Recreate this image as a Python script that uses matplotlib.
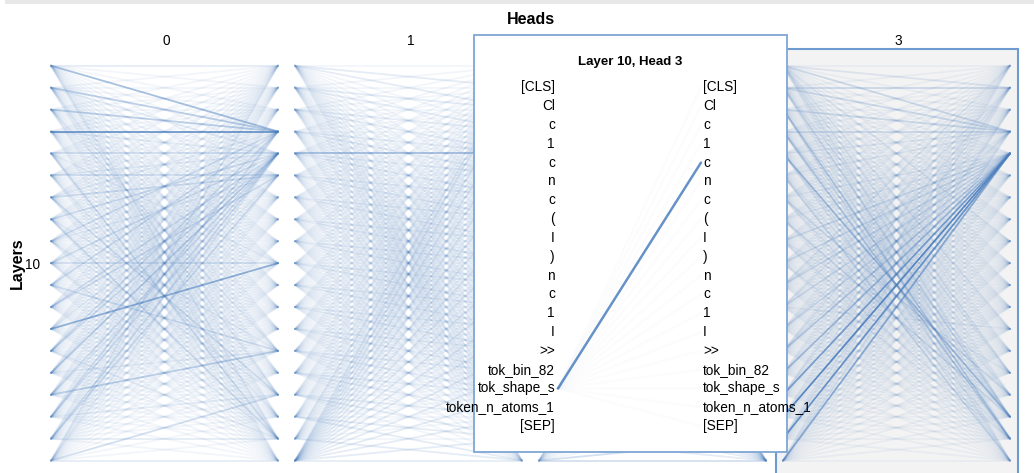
import matplotlib
matplotlib.use("Agg")
import matplotlib.pyplot as plt
from matplotlib.collections import LineCollection
from matplotlib.patches import Rectangle
from matplotlib.colors import to_rgb

plt.rcParams["font.family"] = ["Liberation Sans", "DejaVu Sans"]

tokens = ["[CLS]", "Cl", "c", "1", "c", "n", "c", "(", "I", ")", "n", "c", "1",
          "I", ">>", "tok_bin_82", "tok_shape_s", "token_n_atoms_1", "[SEP]"]
heads = ["0", "1", "2", "3"]
layer_label = "10"
selected_head = 3
selected_token = 16   # tok_shape_s, hovered in the detail box

attn_head0 = [
    "2115111111111111121",
    "1114211111111112111",
    "1114111111111211111",
    "1118211111111111111",
    "1111311112111111131",
    "1111231111111111211",
    "1112131111111113111",
    "1111311111111211131",
    "1113121111111112111",
    "1111311113111111121",
    "1113111111111311111",
    "1111331111111111111",
    "1111211116111111111",
    "1113311111111111121",
    "1112411111111211111",
    "1111321111111411111",
    "1113311111111112111",
    "1111331111111111121",
    "2111211111111113112",
]
attn_head1 = [
    "1221111111111111111",
    "1122111111111111111",
    "1112211111111111111",
    "1111221111111111111",
    "1111522111111111111",
    "1111112211111111111",
    "1111111221111111111",
    "1111111122111111111",
    "1111111112211111111",
    "1111111111221111111",
    "1111111111122111111",
    "1111111111112211111",
    "1111111111111221111",
    "1111111111111122111",
    "1111111111111112211",
    "1111111111111111221",
    "1111111111111111122",
    "2111111111111111112",
    "2222222222222222222",
]
attn_head2 = [
    "3111111111111111112",
    "3111111111111111112",
    "1311111111111111112",
    "1131111111111111112",
    "1113111111111111112",
    "1111311111111111112",
    "1111131111111111112",
    "1111113111111111112",
    "1111111311111111112",
    "1111111131111111112",
    "1111111113111111112",
    "1111111111311111112",
    "1111111111131111112",
    "1111111111113111112",
    "1111111111111311112",
    "1111111111111131112",
    "1111111111111113112",
    "1111111111111111312",
    "2111111111111111133",
]
attn_head3 = [
    "1213111121112121211",
    "1313111111111121311",
    "1113111111111111242",
    "1113111111111112241",
    "1112111111111111522",
    "1112111111111111213",
    "1111211111111113121",
    "1111211111111111311",
    "1111311111111121121",
    "1111311111111111121",
    "2112311111111111111",
    "1211311111112111111",
    "1112311111111111111",
    "1212411111111111111",
    "1111511111111111111",
    "1211711111111111111",
    "1111911111111111111",
    "1121811111111111111",
    "1112611111111111111",
]
attn = [attn_head0, attn_head1, attn_head2, attn_head3]
for m in attn:
    assert len(m) == len(tokens) and all(len(r) == len(tokens) for r in m)

# opacity for each attention level
level_alpha = [0.0, 0.07, 0.14, 0.24, 0.36, 0.48, 0.6, 0.7, 0.8, 0.9]

LINE = to_rgb("#4a7ebe")
W, H = 1034, 473


def draw_lines(ax, levels, x0, x1, ytop, step, lw, z, rows=None, power=1.0):
    segs, cols = [], []
    for i, row in enumerate(levels):
        if rows is not None and i not in rows:
            continue
        for j, ch in enumerate(row):
            a = level_alpha[int(ch)] ** power
            if a <= 0:
                continue
            segs.append([(x0, ytop + i * step), (x1, ytop + j * step)])
            cols.append((*LINE, a))
    ax.add_collection(LineCollection(segs, colors=cols, linewidths=lw,
                                     capstyle="round", zorder=z))


fig = plt.figure(figsize=(W / 100, H / 100), dpi=100)
ax = fig.add_axes([0, 0, 1, 1])
ax.set_xlim(0, W)
ax.set_ylim(H, 0)
ax.axis("off")

# top strip
ax.add_patch(Rectangle((5, 0), W - 5, 4, fc="#e8e8e8", ec="none", zorder=0))

# thumbnails
left0, pitch, pw = 51, 244, 227
ytop, ybot = 65.7, 460.6
step = (ybot - ytop) / (len(tokens) - 1)

ax.add_patch(Rectangle((776, 49.5), 242, 440, fc="#f3f3f3", ec="#6d9ad0",
                       lw=1.5, zorder=0.5))

for h, lab in enumerate(heads):
    x0 = left0 + h * pitch
    draw_lines(ax, attn[h], x0, x0 + pw, ytop, step, lw=1.3, z=1)
    ax.text(x0 + pw / 2 + 2, 41, lab, ha="center", va="center", fontsize=9.8,
            zorder=2)

ax.text(531, 19, "Heads", ha="center", va="center", fontsize=11.5,
        fontweight="bold")
ax.text(17, 263, "Layers", ha="center", va="center", rotation=90,
        fontsize=11.5, fontweight="bold")
ax.text(40, 265, layer_label, ha="right", va="center", fontsize=9.8)

# detail box for the selected head
bx0, by0, bx1, by1 = 473.5, 35, 787, 452
ax.add_patch(Rectangle((bx0, by0), bx1 - bx0, by1 - by0, fc="white",
                       ec="#7fa6d6", lw=1.3, zorder=10))
ax.text(630, 62, f"Layer {layer_label}, Head {heads[selected_head]}",
        ha="center", va="center", fontsize=9.5, fontweight="bold", zorder=12)
ptop, pstep = 87.3, 18.82
for i, tok in enumerate(tokens):
    ax.text(555, ptop + i * pstep, tok, ha="right", va="center",
            fontsize=9.8, zorder=12)
    ax.text(703, ptop + i * pstep, tok, ha="left", va="center",
            fontsize=9.8, zorder=12)
draw_lines(ax, attn[selected_head], 558, 701, ptop, pstep, lw=1.8, z=11,
           rows={selected_token}, power=1.6)

fig.savefig("out.png", dpi=100)
